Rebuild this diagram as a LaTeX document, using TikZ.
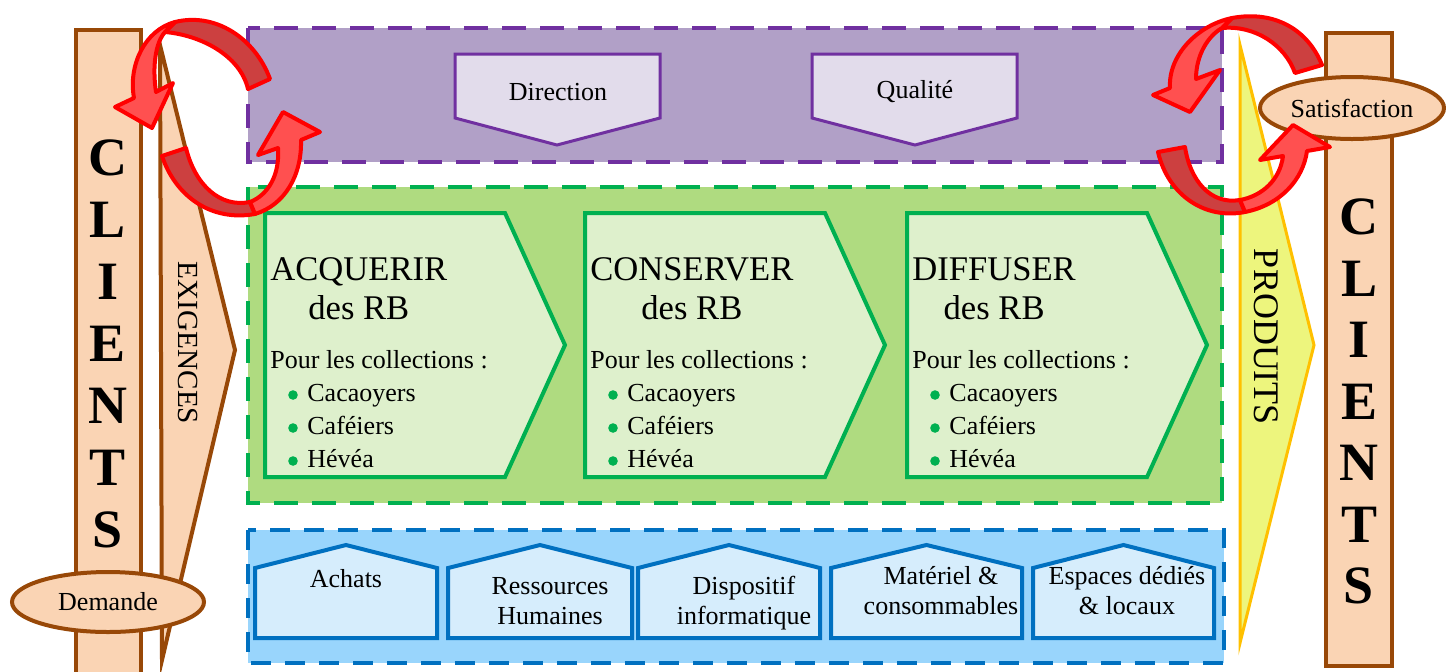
\documentclass[tikz,border=0pt]{standalone}
\usepackage{fontspec}
\setmainfont{Liberation Serif}
\usetikzlibrary{shapes.geometric}

\definecolor{peach}{HTML}{FAD4B4}
\definecolor{brownline}{HTML}{984807}
\definecolor{lilac}{HTML}{B1A0C7}
\definecolor{lilaclight}{HTML}{E2DCEB}
\definecolor{purpleline}{HTML}{7030A0}
\definecolor{grass}{HTML}{AFDB80}
\definecolor{grasslight}{HTML}{DEF0CC}
\definecolor{greenline}{HTML}{00B050}
\definecolor{sky}{HTML}{99D5FC}
\definecolor{skylight}{HTML}{D6EDFC}
\definecolor{blueline}{HTML}{0070C0}
\definecolor{lemon}{HTML}{EDF57D}
\definecolor{amber}{HTML}{FFC000}
\definecolor{redlight}{HTML}{FF5050}
\definecolor{reddark}{HTML}{CC4040}

\tikzset{
  txt/.style={inner sep=0pt, font=\fontsize{13}{15}\selectfont},
  titletxt/.style={inner sep=0pt, align=center, font=\fontsize{17.3}{19.5}\selectfont},
  bigletter/.style={inner sep=0pt, font=\fontsize{27}{27}\selectfont\bfseries},
  bar/.style={fill=peach, draw=brownline, line width=2pt},
  bubble/.style={ellipse, fill=peach, draw=brownline, line width=2pt, txt},
  zone/.style={line width=2pt, dash pattern=on 12pt off 7pt},
  stage/.style={fill=grasslight, draw=greenline, line width=2pt},
  house/.style={fill=skylight, draw=blueline, line width=2pt},
  pilot/.style={fill=lilaclight, draw=purpleline, line width=1.5pt},
  loopdark/.style={fill=reddark, draw=red, line width=2pt, line join=round},
  looplight/.style={fill=redlight, draw=red, line width=2pt, line join=round}
}

\begin{document}
\begin{tikzpicture}[x=0.5pt,y=-0.5pt]
\useasboundingbox (0,0) rectangle (1446,671);

\def\stop{213}
\def\sbot{477}
\def\smid{345}

\draw[bar] (76,30) rectangle (141,676);
\draw[bar] (1326,33) rectangle (1392,666);

\draw[bar] (160,45) -- (235,350) -- (162,660) -- cycle;
\draw[fill=lemon, draw=amber, line width=1.5pt] (1240,45) -- (1314,345) -- (1240,643) -- cycle;

\draw[zone, fill=lilac, draw=purpleline] (248,28) rectangle (1222,162);
\draw[pilot] (455,54) -- (660,54) -- (660,118) -- (557,145) -- (455,118) -- cycle;
\draw[pilot] (812,54) -- (1017,54) -- (1017,118) -- (915,145) -- (812,118) -- cycle;
\node[txt] (dir) at (558,92) {Direction};
\node[txt] (qual) at (915,92) {Qualité};

\draw[zone, fill=grass, draw=greenline] (248,187) rectangle (1222,503);
\foreach \l/\act [count=\k] in {265/ACQUERIR, 585/CONSERVER, 907/DIFFUSER} {
  \draw[stage] (\l,\stop) -- ({\l+240},\stop) -- ({\l+300},\smid) -- ({\l+240},\sbot) -- (\l,\sbot) -- cycle;
  \node[titletxt, anchor=north west] (ttl\k) at ({\l+5},257) {\act\\des RB};
  \node[txt, anchor=base west] (pour\k) at ({\l+5},368) {Pour les collections :};
  \foreach \crop [count=\j] in {Cacaoyers, Caféiers, Hévéa} {
    \fill[greenline] ({\l+28},{362+33*\j}) circle (2.4pt);
    \node[txt, anchor=base west] (col\k\j) at ({\l+42},{368+33*\j}) {\crop};
  }
}

\draw[zone, fill=sky, draw=blueline, dash pattern=on 10pt off 7pt] (248,530) rectangle (1224,663);
\foreach \l/\w in {255/182, 448/184, 638/182, 831/191, 1033/181}
  \draw[house] (\l,638) -- (\l,568) -- ({\l+\w/2},545) -- ({\l+\w},568) -- ({\l+\w},638) -- cycle;
\node[txt, anchor=north] (ach) at (346,569) {Achats};
\node[txt, anchor=north, align=center] (rh) at (550,577) {Ressources\\Humaines};
\node[txt, anchor=north, align=center] (info) at (744,576) {Dispositif\\informatique};
\node[txt, anchor=north, align=center] (mat) at (941,566) {Matériel \&\\consommables};
\node[txt, anchor=north, align=center] (loc) at (1127,566) {Espaces dédiés\\\& locaux};

\node[txt, rotate=-90, font=\fontsize{14.6}{15}\selectfont] (exi) at (188,343) {EXIGENCES};
\node[txt, rotate=-90, font=\fontsize{18}{18}\selectfont] (prod) at (1266,337) {PRODUITS};

\foreach \ch [count=\i from 0] in {C,L,I,E,N,T,S} {
  \node[bigletter] (lc\i) at (108,{158+62*\i}) {\ch};
  \node[bigletter] (rc\i) at (1359,{217+61.5*\i}) {\ch};
}

\node[bubble, minimum width=96pt, minimum height=30pt] (dem) at (108,602) {Demande};
\node[bubble, minimum width=92pt, minimum height=31pt] (sat) at (1352,108) {Satisfaction};

\draw[loopdark] (248,89) -- (270,79) .. controls (255,38) and (215,12) .. (175,22) -- (165,32) .. controls (200,35) and (240,55) .. (248,89) -- cycle;
\draw[looplight] (175,22) .. controls (145,30) and (128,65) .. (134,98) -- (115,107) -- (152,128) -- (173,83) -- (156,92) .. controls (152,65) and (156,42) .. (165,32) -- cycle;
\draw[loopdark] (186,148) -- (162,156) .. controls (175,195) and (210,222) .. (255,214) -- (250,202) .. controls (220,208) and (195,185) .. (186,148) -- cycle;
\draw[looplight] (255,214) .. controls (285,205) and (302,175) .. (301,140) -- (320,132) -- (283,112) -- (258,155) -- (278,148) .. controls (280,175) and (268,195) .. (250,202) -- cycle;

\draw[loopdark] (1295,73) -- (1322,65) .. controls (1308,30) and (1275,10) .. (1232,18) -- (1222,28) .. controls (1255,25) and (1285,45) .. (1295,73) -- cycle;
\draw[looplight] (1232,18) .. controls (1198,25) and (1168,55) .. (1170,88) -- (1153,95) -- (1190,112) -- (1220,70) -- (1196,79) .. controls (1196,55) and (1208,36) .. (1222,28) -- cycle;
\draw[loopdark] (1185,147) -- (1158,152) .. controls (1168,195) and (1205,220) .. (1245,212) -- (1240,200) .. controls (1210,205) and (1190,180) .. (1185,147) -- cycle;
\draw[looplight] (1245,212) .. controls (1280,205) and (1303,180) .. (1307,151) -- (1330,147) -- (1293,125) -- (1260,160) -- (1283,156) .. controls (1280,180) and (1262,196) .. (1240,200) -- cycle;

\end{tikzpicture}
\end{document}
